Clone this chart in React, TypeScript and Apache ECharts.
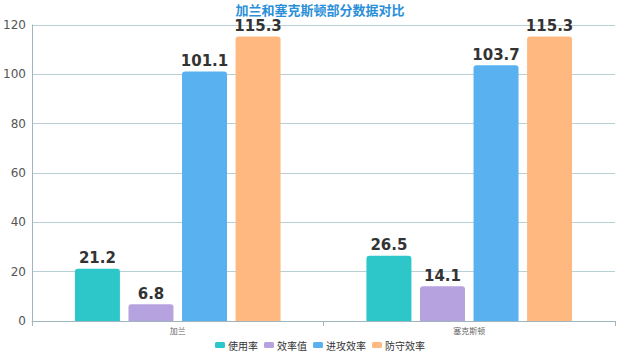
import React, { useEffect, useRef } from "react";
import * as echarts from "echarts";

const categories = ["加兰", "塞克斯顿"];
const seriesNames = ["使用率", "效率值", "进攻效率", "防守效率"];
const usage = [21.2, 26.5];
const efficiency = [6.8, 14.1];
const offense = [101.1, 103.7];
const defense = [115.3, 115.3];
const colors = ["#2ec7c9", "#b6a2de", "#5ab1ef", "#ffb980"];

export default function App() {
  const ref = useRef<HTMLDivElement>(null);
  useEffect(() => {
    const chart = echarts.init(ref.current!, null, { renderer: "svg" });
    const values = [usage, efficiency, offense, defense];
    chart.setOption({
      animation: false,
      backgroundColor: "#ffffff",
      title: {
        text: "加兰和塞克斯顿部分数据对比",
        left: "center",
        top: 0,
        padding: [2, 5],
        textStyle: { color: "#2a8fd8", fontSize: 13, fontWeight: "bold", fontFamily: "Noto Sans CJK SC", lineHeight: 14 },
      },
      legend: {
        bottom: 1,
        left: "center",
        itemWidth: 10,
        itemHeight: 6,
        itemGap: 6,
        icon: "roundRect",
        textStyle: { fontSize: 10, color: "#333", fontFamily: "Noto Sans CJK SC", padding: [0, 0, 0, -2] },
        data: seriesNames,
      },
      grid: { left: 32, right: 25, top: 25, bottom: 35 },
      xAxis: {
        type: "category",
        data: categories,
        axisLine: { lineStyle: { color: "#9fb6bf" } },
        axisTick: { show: true, lineStyle: { color: "#9fb6bf" } },
        axisLabel: { fontSize: 8, color: "#666", fontFamily: "Noto Sans CJK SC", margin: 5 },
      },
      yAxis: {
        type: "value",
        min: 0,
        max: 120,
        interval: 20,
        axisLine: { show: true, lineStyle: { color: "#9fb6bf" } },
        axisTick: { show: false },
        splitLine: { lineStyle: { color: "#b9cfd6" } },
        axisLabel: { fontSize: 12, color: "#555", fontFamily: "DejaVu Sans", margin: 6 },
      },
      series: seriesNames.map((name, i) => ({
        name,
        type: "bar",
        data: values[i],
        barWidth: 45,
        barGap: "19%",
        itemStyle: { color: colors[i], borderRadius: [3, 3, 0, 0] },
        label: {
          show: true,
          position: "top",
          distance: 3,
          fontSize: 15,
          fontWeight: "bold",
          color: "#333",
          fontFamily: "DejaVu Sans",
        },
      })),
    });
    return () => chart.dispose();
  }, []);
  return (
    <div
      ref={ref}
      style={{ position: "absolute", left: 0, top: 0, width: 640, height: 356 }}
    />
  );
}
